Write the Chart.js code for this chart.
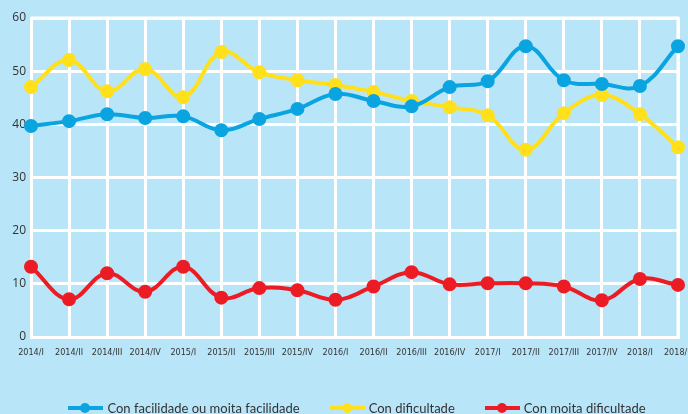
<!DOCTYPE html>
<html>
<head>
<meta charset="utf-8">
<script src="https://cdn.jsdelivr.net/npm/chart.js@4/dist/chart.umd.min.js"></script>
<style>
  html, body { margin: 0; padding: 0; background: #b9e5f8; }
  #wrap { position: relative; width: 688px; height: 414px; overflow: hidden; }
  #legend {
    position: absolute; left: 0; top: 400px; width: 688px; padding-left: 26px; box-sizing: border-box;
    display: flex; justify-content: center; align-items: center;
    font-family: Lato, "Noto Sans", sans-serif; font-size: 13px; color: #333;
  }
  .item { display: flex; align-items: center; margin: 0 15px; white-space: nowrap; }
  .mark { position: relative; width: 35px; height: 12px; margin-right: 4px; }
  .mark .bar { position: absolute; left: 0; right: 0; top: 4px; height: 4px; }
  .mark .dot { position: absolute; left: 12px; top: 1px; width: 10px; height: 10px; border-radius: 50%; }
</style>
</head>
<body>
<div id="wrap">
  <canvas id="chart" width="688" height="414"></canvas>
  <div id="legend"></div>
</div>
<script>
// quarters, 2014/I .. 2018/II
const quarters = ['2014/I', '2014/II', '2014/III', '2014/IV',
                  '2015/I', '2015/II', '2015/III', '2015/IV',
                  '2016/I', '2016/II', '2016/III', '2016/IV',
                  '2017/I', '2017/II', '2017/III', '2017/IV',
                  '2018/I', '2018/II'];

// values in %
const facilidade = [39.7, 40.6, 41.9, 41.2, 41.5, 38.9, 41.0, 42.9, 45.7, 44.4,
                    43.4, 47.0, 48.1, 54.7, 48.3, 47.6, 47.2, 54.7];
const dificultade = [47.0, 52.1, 46.2, 50.4, 45.1, 53.6, 49.8, 48.3, 47.4, 46.1,
                     44.4, 43.2, 41.7, 35.2, 42.1, 45.5, 41.9, 35.7];
const moitaDificultade = [13.2, 7.1, 12.0, 8.5, 13.2, 7.4, 9.2, 8.8, 7.0, 9.5,
                          12.2, 9.9, 10.1, 10.1, 9.5, 6.9, 10.9, 9.8];

const seriesNames = ['Con facilidade ou moita facilidade', 'Con dificultade', 'Con moita dificultade'];
const yTicks = [0, 10, 20, 30, 40, 50, 60];

const colors = ['#0aa4e0', '#ffe01b', '#ec1c24'];

function lineDataset(label, data, color) {
    return {
        label: label,
        data: data,
        borderColor: color,
        backgroundColor: color,
        borderWidth: 4,
        pointRadius: 5,
        pointHoverRadius: 5,
        tension: 0.4,
        fill: false
    };
}

const ctx = document.getElementById('chart');
const chart = new Chart(ctx, {
    type: 'line',
    data: {
        labels: quarters,
        datasets: [
            lineDataset(seriesNames[0], facilidade, colors[0]),
            lineDataset(seriesNames[1], dificultade, colors[1]),
            lineDataset(seriesNames[2], moitaDificultade, colors[2])
        ]
    },
    options: {
        responsive: false,
        animation: false,
        layout: { padding: { top: 18, left: 0, right: 10, bottom: 47 } },
        scales: {
            x: {
                offset: false,
                grid: { color: '#ffffff', lineWidth: 3, drawTicks: false },
                border: { color: '#ffffff', width: 3 },
                ticks: {
                    autoSkip: false, maxRotation: 0, padding: 10,
                    color: '#333', font: { family: '"Liberation Sans Narrow", "DejaVu Sans Condensed", sans-serif', size: 9 }
                },
                afterFit: function(scale) {
                    scale.height = 30;
                    scale.paddingLeft = 0;
                    scale.paddingRight = 0;
                }
            },
            y: {
                min: 0, max: 60,
                afterBuildTicks: function(scale) { scale.ticks = yTicks.map(v => ({ value: v })); },
                grid: { color: '#ffffff', lineWidth: 3, drawTicks: false },
                border: { color: '#ffffff', width: 3 },
                ticks: {
                    padding: 5, color: '#333',
                    font: { family: '"Open Sans", sans-serif', size: 12 }
                },
                afterFit: function(scale) {
                    scale.width = 31;
                    scale.paddingTop = 0;
                    scale.paddingBottom = 0;
                }
            }
        },
        plugins: {
            legend: { display: false },
            tooltip: { enabled: false }
        }
    },
    plugins: [{
        // white frame on top and right of the plot
        id: 'frame',
        beforeDatasetsDraw: function(c) {
            const a = c.chartArea;
            const g = c.ctx;
            g.save();
            g.strokeStyle = '#ffffff';
            g.lineWidth = 3;
            g.beginPath();
            g.moveTo(a.left, a.top);
            g.lineTo(a.right, a.top);
            g.lineTo(a.right, a.bottom);
            g.stroke();
            g.restore();
        }
    }]
});

// html legend built from the datasets
const legend = document.getElementById('legend');
chart.data.datasets.forEach(function(ds) {
    const item = document.createElement('div');
    item.className = 'item';
    item.innerHTML = '<span class="mark"><span class="bar" style="background:' + ds.borderColor +
        '"></span><span class="dot" style="background:' + ds.borderColor + '"></span></span>' +
        '<span>' + ds.label + '</span>';
    legend.appendChild(item);
});
</script>
</body>
</html>
